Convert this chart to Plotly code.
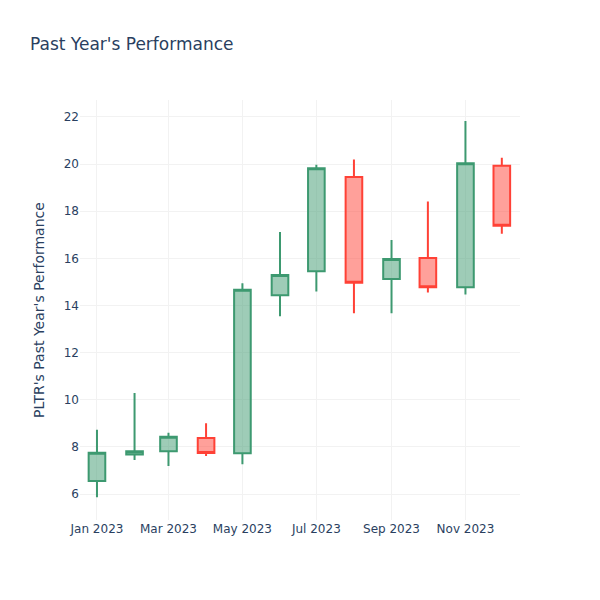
import plotly.graph_objects as go

dates = ["2023-01-01", "2023-02-01", "2023-03-01", "2023-04-01", "2023-05-01", "2023-06-01",
         "2023-07-01", "2023-08-01", "2023-09-01", "2023-10-01", "2023-11-01", "2023-12-01"]
opens = [6.55, 7.68, 7.82, 8.38, 7.73, 14.44, 15.45, 19.45, 15.13, 16.02, 14.78, 19.93]
highs = [8.73, 10.29, 8.60, 9.01, 14.95, 17.12, 19.97, 20.20, 16.78, 18.41, 21.83, 20.27]
lows = [5.86, 7.45, 7.19, 7.62, 7.27, 13.55, 14.59, 13.67, 13.67, 14.55, 14.47, 17.04]
closes = [7.75, 7.82, 8.43, 7.74, 14.67, 15.29, 19.82, 14.97, 15.97, 14.78, 20.04, 17.38]

fig = go.Figure(go.Candlestick(x=dates, open=opens, high=highs, low=lows, close=closes))
fig.update_layout(
    template="plotly_white",
    width=600, height=600,
    font=dict(family="DejaVu Sans"),
    title=dict(text="Past Year's Performance", x=0.05, xanchor="left"),
    yaxis_title="PLTR's Past Year's Performance",
    xaxis_rangeslider_visible=False,
    showlegend=False,
    margin=dict(l=80, r=80, t=100, b=80),
)
fig.update_xaxes(range=["2022-12-18", "2023-12-16"], gridcolor="#F2F2F2")
fig.update_yaxes(range=[4.9, 22.72], gridcolor="#F2F2F2")
fig.write_html("out.html", config={"displayModeBar": False},
               post_script="document.body.style.margin='0';")
